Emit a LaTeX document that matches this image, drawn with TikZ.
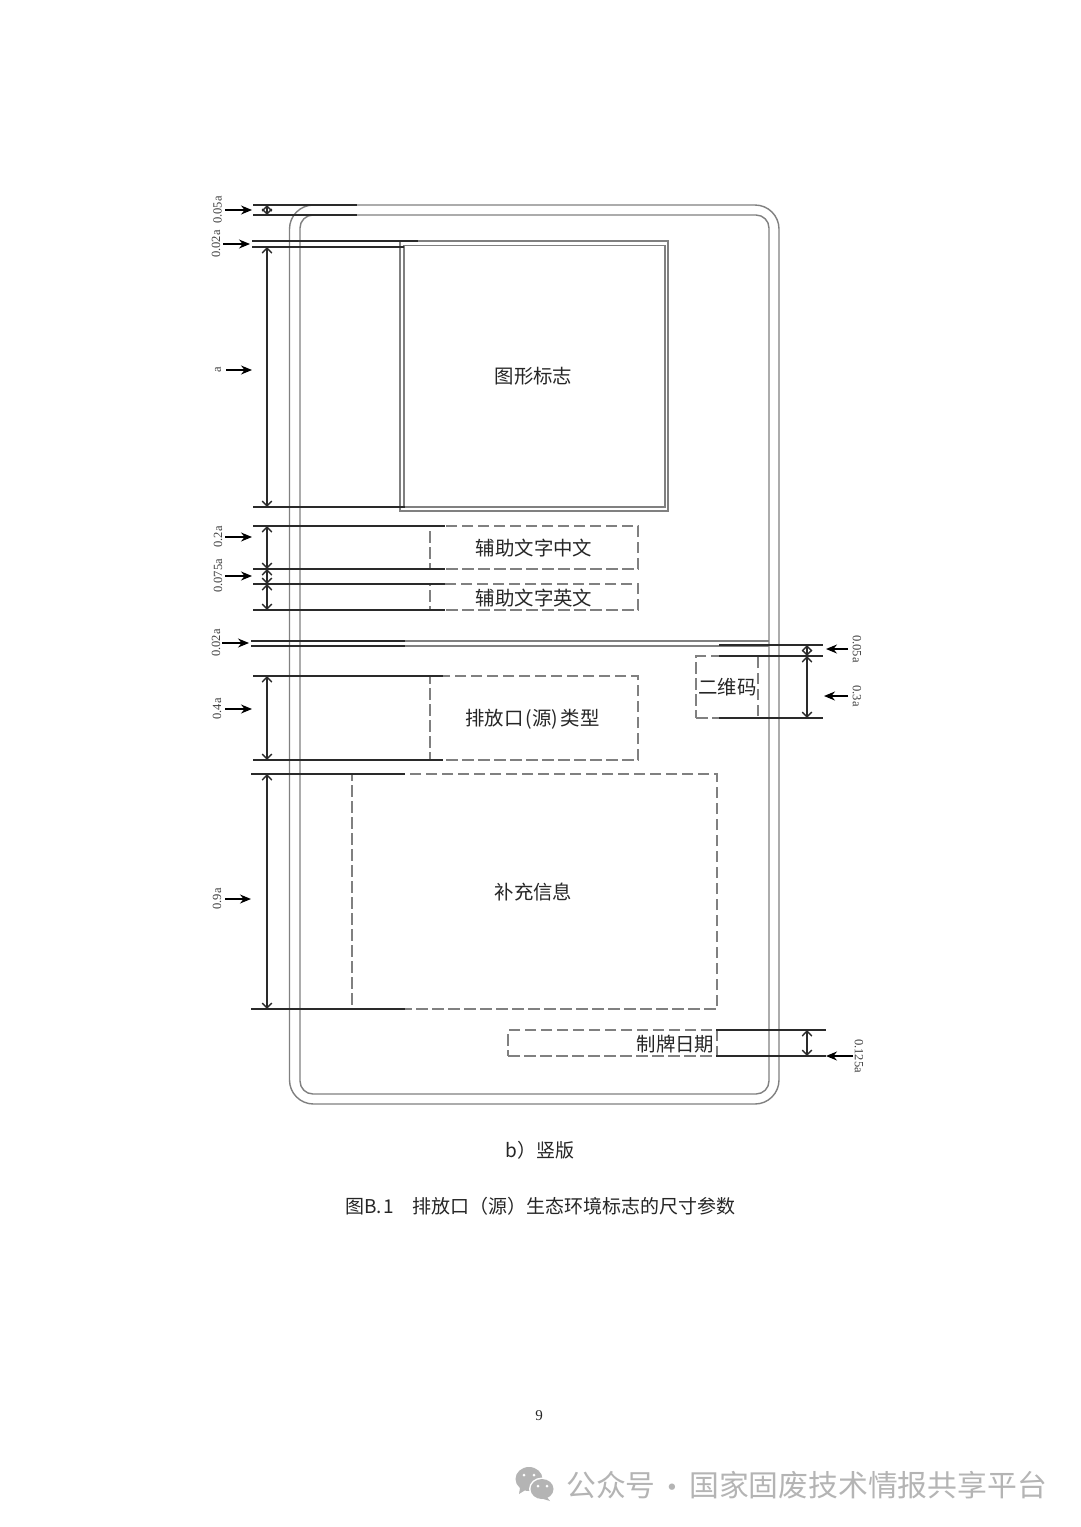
\documentclass[tikz,border=0pt]{standalone}
\usepackage{fontspec}
\setmainfont{Noto Sans CJK SC}
\newfontfamily\serifnum{Liberation Serif}
\usetikzlibrary{arrows.meta}
\definecolor{inkdark}{HTML}{2A2A2A}
\definecolor{inkgray}{HTML}{808080}
\definecolor{dashgray}{HTML}{808080}
\definecolor{wmgray}{HTML}{B4B4B4}
\newcommand{\bx}[7]{\node[#6,minimum width={(#4-#2)*1pt},minimum height={(#5-#3)*1pt}] (#1) at ({(#2+#4)/2},{(#3+#5)/2}) {#7};}
% extension line: name, x1, x2, y
\newcommand{\ext}[4]{\coordinate (#1L) at (#2,#4);\coordinate (#1R) at (#3,#4);\draw[extline] (#1L) -- (#1R);}
% dimension label: name, text, label x, y, rotate, arrow-start x, arrow-end x
\newcommand{\lab}[7]{\node[dimtext,rotate=#5] (#1) at (#3,#4) {#2};\coordinate (#1S) at (#6,#4);\coordinate (#1E) at (#7,#4);\draw[pointer] (#1S) -- (#1E);}
\tikzset{
  frame/.style={draw=inkgray,line width=1.4pt,inner sep=0pt,outer sep=0pt},
  logobox/.style={draw=inkgray,line width=1.2pt,inner sep=0pt,outer sep=0pt},
  dashbox/.style={draw=dashgray,line width=1.1pt,dash pattern=on 11.5pt off 4.5pt,inner sep=0pt,outer sep=0pt},
  extline/.style={draw=inkdark,line width=1.4pt},
  thinline/.style={draw=inkgray,line width=1.1pt},
  dimline/.style={draw=inkdark,line width=1.4pt,{Straight Barb[length=5pt,width=9.5pt]}-{Straight Barb[length=5pt,width=9.5pt]}},
  pointer/.style={draw=black,line width=1.2pt,-{Stealth[length=11pt,width=9pt]}},
  dimtext/.style={font=\serifnum\fontsize{12.5}{13}\selectfont,text=black!75,inner sep=0pt},
  lbl/.style={font=\fontsize{19.4}{22}\selectfont,text=black!85,inner sep=0pt},
  captext/.style={font=\fontsize{19}{22}\selectfont,text=black!85,inner sep=0pt},
  wm/.style={font=\fontsize{29.8}{32}\selectfont,text=wmgray,inner sep=0pt,anchor=west},
}
\begin{document}
\begin{tikzpicture}[x=1pt,y=-1pt]
\useasboundingbox[fill=white] (0,0) rectangle (1080,1527);
% frames
\bx{outer}{289.5}{205}{779}{1104}{frame,rounded corners=24pt}{}
\bx{inner}{300}{215}{769}{1094}{frame,rounded corners=13pt}{}
% logo
\bx{logoOut}{400}{241}{668}{511}{logobox}{}
\bx{logoIn}{404}{245.5}{665}{507}{logobox}{}
\node[lbl] (tLogo) at (533.5,376) {图形标志};
% dashed boxes
\bx{cn}{430}{526}{638}{569}{dashbox}{}
\node[lbl] (tCn) at (534,548) {辅助文字中文};
\bx{en}{430}{584}{638}{610}{dashbox}{}
\node[lbl] (tEn) at (534,598) {辅助文字英文};
\bx{type}{430}{676}{638}{760}{dashbox}{}
\node[lbl] (tType) at (532.5,719) {排放口\kern2.5pt(源)\kern2.5pt类型};
\bx{sup}{352}{774}{717}{1009}{dashbox}{}
\node[lbl] (tSup) at (533.5,892) {补充信息};
\bx{qr}{696}{656}{758}{718}{dashbox}{}
\node[lbl] (tQr) at (727.5,687) {二维码};
\bx{date}{508}{1030}{717}{1056}{dashbox}{}
\node[lbl,anchor=east] (tDate) at (714.5,1044) {制牌日期};
% divider double line
\coordinate (divAL) at (405,641);\coordinate (divAR) at (769,641);
\coordinate (divBL) at (405,646);\coordinate (divBR) at (769,646);
\draw[thinline] (divAL) -- (divAR);
\draw[thinline] (divBL) -- (divBR);
% extension lines
\ext{t1}{253}{357}{205}
\ext{t2}{253}{357}{215}
\ext{t3}{252}{418}{241}
\ext{t4}{252}{404}{247}
\ext{t5}{253}{405}{507}
\ext{c1}{253}{445}{526}
\ext{c2}{253}{445}{569}
\ext{c3}{253}{445}{584}
\ext{c4}{253}{445}{610}
\ext{d1}{251}{405}{641}
\ext{d2}{251}{405}{646}
\coordinate (heavyAL) at (300,641);\coordinate (heavyBL) at (300,646);
\draw[extline,line width=1.8pt] (heavyAL) -- (d1R);
\draw[extline,line width=1.8pt] (heavyBL) -- (d2R);
\ext{p1}{253}{443}{676}
\ext{p2}{253}{443}{760}
\ext{s1}{251}{405}{774}
\ext{s2}{251}{405}{1009}
\ext{r1}{719}{823}{645}
\ext{r2}{719}{823}{656}
\ext{r3}{719}{823}{718}
\ext{k1}{716}{826}{1030}
\ext{k2}{716}{826}{1056}
% dimension arrows
\coordinate (dx) at (267,0);
\coordinate (dy) at (807,0);
\draw[dimline] (dx|-t1L) -- (dx|-t2L);
\draw[dimline] (dx|-t4L) -- (dx|-t5L);
\draw[dimline] (dx|-c1L) -- (dx|-c2L);
\draw[dimline] (dx|-c2L) -- (dx|-c3L);
\draw[dimline] (dx|-c3L) -- (dx|-c4L);
\draw[dimline] (dx|-p1L) -- (dx|-p2L);
\draw[dimline] (dx|-s1L) -- (dx|-s2L);
\draw[dimline] (dy|-r1L) -- (dy|-r2L);
\draw[dimline] (dy|-r2L) -- (dy|-r3L);
\draw[dimline] (dy|-k1L) -- (dy|-k2L);
% labels and pointers
\lab{l1}{0.05a}{217.5}{210}{90}{225}{252}
\lab{l2}{0.02a}{216}{244}{90}{223}{250}
\lab{l3}{a}{218}{370}{90}{226}{252}
\lab{l4}{0.2a}{218}{537}{90}{225}{252}
\lab{l5}{0.075a}{218}{576}{90}{225}{252}
\lab{l6}{0.02a}{216}{643}{90}{222}{249}
\lab{l7}{0.4a}{217}{709}{90}{225}{252}
\lab{l8}{0.9a}{217}{899}{90}{225}{251}
\lab{r5}{0.05a}{857}{649}{-90}{848}{826}
\lab{r6}{0.3a}{857}{696}{-90}{848}{824}
\lab{r7}{0.125a}{859}{1056}{-90}{853}{826}
% captions
\node[captext,anchor=west] (capB) at (505.5,1150) {b）竖版};
\node[captext,anchor=west] (capA) at (345,1206.5) {图B.\kern2pt1};
\node[captext,anchor=west] (capC) at (412,1206.5) {排放口（源）生态环境标志的尺寸参数};
\node[font=\serifnum\fontsize{15}{16}\selectfont,text=black!85,inner sep=0pt] (page) at (539,1415.5) {9};
% watermark
\fill[wmgray] (529,1479) ellipse [x radius=13.5,y radius=12];
\fill[wmgray] (520,1488) -- (519,1494) -- (527,1489) -- cycle;
\fill[white] (542,1489) ellipse [x radius=13,y radius=11.5];
\fill[wmgray] (542,1489) ellipse [x radius=11.5,y radius=10];
\fill[wmgray] (547,1497) -- (550,1501) -- (540,1498) -- cycle;
\foreach \ex/\ey in {524/1475,534/1475,538/1486,547/1486}{\fill[white] (\ex,\ey) circle (1.5);}
\node[wm] (wmA) at (566,1485) {公众号};
\node[wm,anchor=center] (wmDot) at (672,1491) {·};
\node[wm] (wmB) at (689,1485) {国家固废技术情报共享平台};
\end{tikzpicture}
\end{document}
